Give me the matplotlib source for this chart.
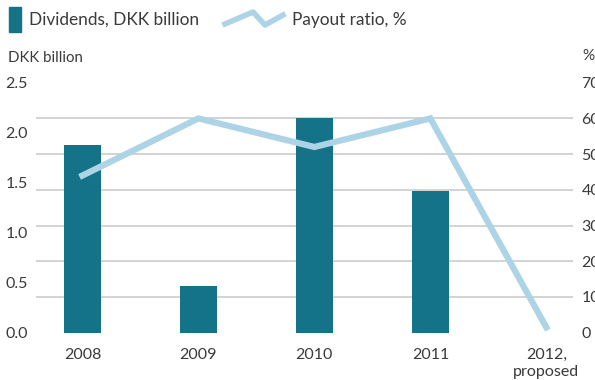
import numpy as np
import matplotlib
matplotlib.use("Agg")
import matplotlib.pyplot as plt
from matplotlib.patches import Rectangle
from matplotlib.lines import Line2D

plt.rcParams['font.family'] = ['Lato', 'DejaVu Sans']

# Data
years = ["2008", "2009", "2010", "2011", "2012,\nproposed"]
dividends = [1.88, 0.47, 2.15, 1.42, 0.0]      # DKK billion
payout = [44, 60, 52, 60, 1.5]                 # %

bar_color = "#147389"
line_color = "#acd4e6"
text_color = "#3a3a3a"
grid_color = "#cccccc"

fig = plt.figure(figsize=(5.95, 3.8), dpi=100)
ax = fig.add_axes([36/595, 47.3/380, 537/595, 250/380])
ax2 = ax.twinx()

x = np.arange(len(years))
ax.bar(x, dividends, width=0.32, color=bar_color, zorder=2)
ax2.plot(x, payout, color=line_color, lw=4.5, solid_joinstyle='miter', zorder=3)

ax.set_xlim(-0.4, 4.23)
ax.set_ylim(0, 2.5)
ax2.set_ylim(0, 70)

ax.set_yticks(np.arange(0, 2.51, 0.5))
ax.set_yticklabels([f"{v:.1f}" for v in np.arange(0, 2.51, 0.5)])
ax2.set_yticks(np.arange(0, 71, 10))

# gridlines follow the right axis (8 lines)
ax.set_yticks(np.linspace(0, 2.5, 8), minor=True)
ax.grid(which='minor', axis='y', color=grid_color, lw=1.2)
ax.set_axisbelow(True)

ax.set_xticks(x)
ax.set_xticklabels(years, linespacing=1.25)

for a in (ax, ax2):
    for s in a.spines.values():
        s.set_visible(False)
    a.tick_params(length=0, which='both', labelsize=11.5, labelcolor=text_color)
ax.tick_params(axis='y', pad=6)
ax.tick_params(axis='x', pad=11)
ax2.tick_params(axis='y', pad=6)

fig.text(8/595, 1 - 58/380, "DKK billion", fontsize=10.8, color=text_color, va='center')
fig.text(582/595, 1 - 56/380, "%", fontsize=11, color=text_color, va='center')

# legend
fig.add_artist(Rectangle((9/595, 1 - 32/380), 12/595, 25/380,
                         transform=fig.transFigure, color=bar_color))
fig.text(29/595, 1 - 20/380, "Dividends, DKK billion", fontsize=12.4,
         color=text_color, va='center')
fig.add_artist(Line2D(np.array([225, 253, 265, 283]) / 595,
                      1 - np.array([24, 12, 25, 15]) / 380,
                      transform=fig.transFigure, color=line_color, lw=4))
fig.text(292/595, 1 - 20/380, "Payout ratio, %", fontsize=12.4,
         color=text_color, va='center')

fig.savefig("out.png", dpi=100)
